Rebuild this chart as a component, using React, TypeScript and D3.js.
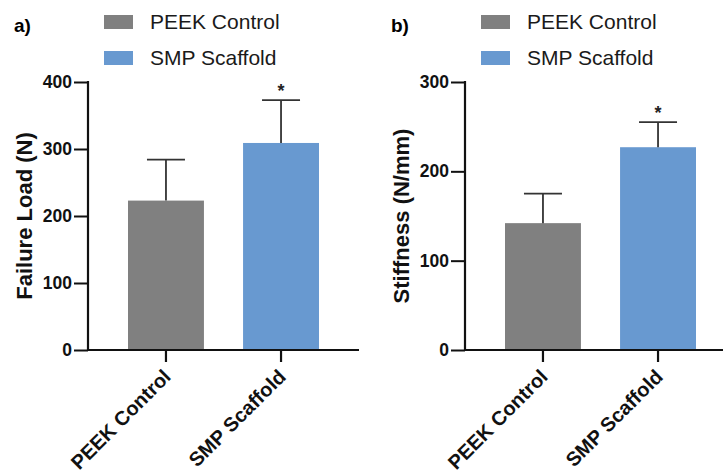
import React, { useEffect, useRef } from 'react'
import * as d3 from 'd3'

const groups = ['PEEK Control', 'SMP Scaffold']
const colors = ['#808080', '#6899d0']
const failureLoadMean = [223, 309]
const failureLoadSD = [61, 64]
const stiffnessMean = [142, 227]
const stiffnessSD = [33, 28]
const significance = ['', '*']
const failureTicks = [0, 100, 200, 300, 400]
const stiffnessTicks = [0, 100, 200, 300]

const panels = [
  { tag: 'a)', title: 'Failure Load (N)', mean: failureLoadMean, sd: failureLoadSD, ticks: failureTicks, max: 400 },
  { tag: 'b)', title: 'Stiffness (N/mm)', mean: stiffnessMean, sd: stiffnessSD, ticks: stiffnessTicks, max: 300 },
]

const App = () => {
  const svgRef = useRef<SVGSVGElement>(null)

  useEffect(() => {
    const width = 723
    const height = 475
    const font = '"Liberation Sans", Arial, Helvetica, sans-serif'
    const svg = d3.select(svgRef.current).attr('width', width).attr('height', height)
    svg.selectAll('*').remove()

    // layout of one panel, the second one is shifted to the right
    const axisX = 88
    const axisY0 = 350
    const axisTop = 82
    const panelShift = 377

    panels.forEach((p, pi) => {
      const g = svg.append('g').attr('transform', `translate(${pi * panelShift}, 0)`)

      const y = d3.scaleLinear().domain([0, p.max]).range([axisY0, axisTop])
      const x = d3.scaleBand().domain(groups).range([128, 319]).paddingInner(0.34).paddingOuter(0)

      // panel tag
      g.append('text')
        .attr('x', 14)
        .attr('y', 32)
        .text(p.tag)
        .style('font-family', font)
        .style('font-weight', 'bold')
        .style('font-size', '19px')

      // legend
      groups.forEach((name, i) => {
        const item = g.append('g').attr('transform', `translate(104, ${15 + i * 36})`)
        item.append('rect').attr('width', 29).attr('height', 14).attr('fill', colors[i])
        item
          .append('text')
          .attr('x', 46)
          .attr('y', 14)
          .text(name)
          .style('font-family', font)
          .style('font-size', '21px')
          .attr('fill', '#1a1a1a')
      })

      // bars
      g.selectAll('rect.bar')
        .data(groups)
        .enter()
        .append('rect')
        .attr('class', 'bar')
        .attr('x', (d) => x(d)!)
        .attr('width', x.bandwidth())
        .attr('y', (d, i) => y(p.mean[i]))
        .attr('height', (d, i) => axisY0 - y(p.mean[i]))
        .attr('fill', (d, i) => colors[i])

      // error bars (upper only)
      groups.forEach((name, i) => {
        const cx = x(name)! + x.bandwidth() / 2
        const top = y(p.mean[i] + p.sd[i])
        g.append('line')
          .attr('x1', cx)
          .attr('x2', cx)
          .attr('y1', y(p.mean[i]))
          .attr('y2', top)
          .attr('stroke', '#333')
          .attr('stroke-width', 1.8)
        g.append('line')
          .attr('x1', cx - 19)
          .attr('x2', cx + 19)
          .attr('y1', top)
          .attr('y2', top)
          .attr('stroke', '#333')
          .attr('stroke-width', 1.8)
        if (significance[i]) {
          g.append('text')
            .attr('x', cx)
            .attr('y', top - 3)
            .attr('text-anchor', 'middle')
            .text(significance[i])
            .style('font-family', font)
            .style('font-weight', 'bold')
            .style('font-size', '18px')
            .attr('fill', '#222')
        }
      })

      // y axis
      const yAxis = g
        .append('g')
        .attr('transform', `translate(${axisX}, 0)`)
        .call(d3.axisLeft(y).tickValues(p.ticks).tickSize(14).tickSizeOuter(0).tickPadding(2))
      yAxis.select('.domain').remove()
      yAxis.selectAll('line').attr('stroke', '#111').attr('stroke-width', 2)
      yAxis
        .selectAll('text')
        .style('font-family', font)
        .style('font-weight', 'bold')
        .style('font-size', '17.5px')
        .attr('fill', '#111')
      g.append('line')
        .attr('x1', axisX)
        .attr('x2', axisX)
        .attr('y1', axisTop - 1)
        .attr('y2', axisY0 + 1)
        .attr('stroke', '#111')
        .attr('stroke-width', 2.2)

      // x axis
      g.append('line')
        .attr('x1', axisX - 1)
        .attr('x2', axisX + 271)
        .attr('y1', axisY0)
        .attr('y2', axisY0)
        .attr('stroke', '#111')
        .attr('stroke-width', 2.2)
      const xAxis = g
        .append('g')
        .attr('transform', `translate(0, ${axisY0})`)
        .call(d3.axisBottom(x).tickSize(12).tickSizeOuter(0))
      xAxis.select('.domain').remove()
      xAxis.selectAll('line').attr('stroke', '#111').attr('stroke-width', 2.2)
      xAxis
        .selectAll('text')
        .attr('y', 0)
        .attr('dy', 0)
        .attr('transform', 'translate(6, 28) rotate(-45)')
        .attr('text-anchor', 'end')
        .style('font-family', font)
        .style('font-weight', 'bold')
        .style('font-size', '20px')
        .attr('fill', '#111')

      // y title
      g.append('text')
        .attr('transform', `translate(32, ${(axisTop + axisY0) / 2}) rotate(-90)`)
        .attr('text-anchor', 'middle')
        .text(p.title)
        .style('font-family', font)
        .style('font-weight', 'bold')
        .style('font-size', '22px')
        .attr('fill', '#111')
    })
  }, [])

  return (
    <div style={{ position: 'absolute', left: 0, top: 0, background: '#fff' }}>
      <svg ref={svgRef} style={{ display: 'block' }}></svg>
    </div>
  )
}

export default App
